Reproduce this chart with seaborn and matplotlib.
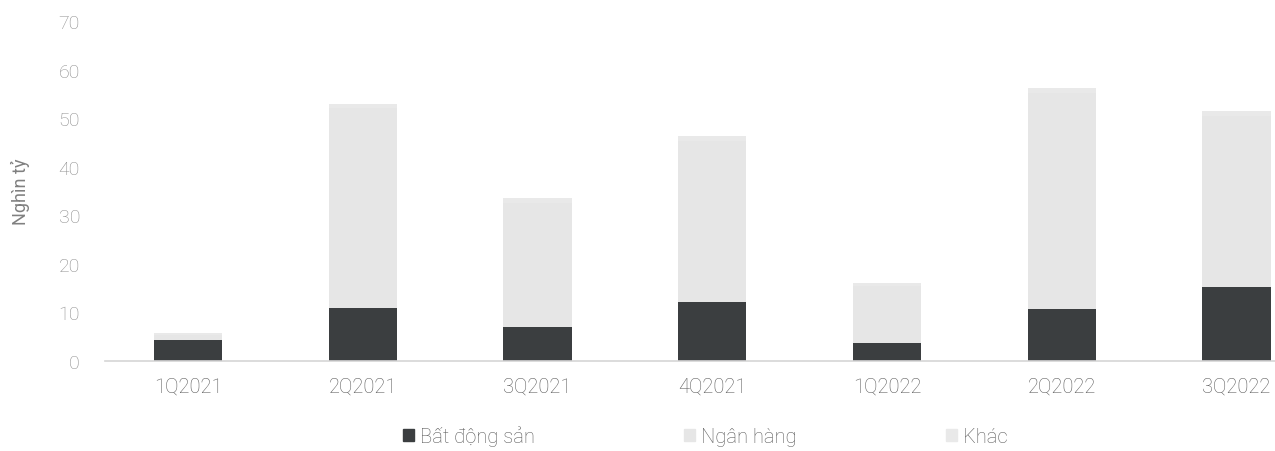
import matplotlib
matplotlib.use("Agg")

import matplotlib.pyplot as plt
import matplotlib.patches as mpatches
import numpy as np
import pandas as pd
import seaborn as sns

quarters = ["1Q2021", "2Q2021", "3Q2021", "4Q2021", "1Q2022", "2Q2022", "3Q2022"]
bat_dong_san = [4.3, 10.9, 7.0, 12.1, 3.7, 10.7, 15.2]
ngan_hang = [1.0, 41.1, 25.5, 33.2, 11.8, 44.5, 35.2]
khac = [0.5, 1.0, 1.0, 1.0, 0.5, 1.0, 1.0]

col_bds = "#3b3e40"
col_nh = "#e6e6e6"
col_khac = "#e9e9e9"

sns.set_style("white")
plt.rcParams['font.family'] = ['Roboto', 'DejaVu Sans']

df = pd.DataFrame({"quy": quarters, "bds": bat_dong_san, "nh": ngan_hang, "khac": khac})
df["lvl2"] = df["bds"] + df["nh"]
df["lvl3"] = df["lvl2"] + df["khac"]

fig = plt.figure(figsize=(12.75, 4.52), dpi=100)
ax = fig.add_axes([105 / 1275, 90 / 452, 1170 / 1275, 340 / 452])

# stacked by overdrawing cumulative totals
for col, c in [("lvl3", col_khac), ("lvl2", col_nh), ("bds", col_bds)]:
    sns.barplot(data=df, x="quy", y=col, color=c, width=0.39, saturation=1,
                linewidth=0, ax=ax)

ax.set_xlim(-0.475, 6.22)
ax.set_ylim(0, 70)
ax.set_yticks(np.arange(0, 71, 10))
ax.set_xlabel("")
ax.set_ylabel("Nghìn tỷ", fontsize=13, color="#808080")
ax.yaxis.set_label_coords(-0.064, 0.5)
ax.tick_params(axis="y", labelsize=14, colors="#8c8c8c", length=0, pad=18)
ax.tick_params(axis="x", labelsize=14.5, colors="#5a5a5a", length=0, pad=11)
for lbl in ax.get_yticklabels() + ax.get_xticklabels():
    lbl.set_fontweight("light")

for s in ["top", "right", "left"]:
    ax.spines[s].set_visible(False)
ax.spines["bottom"].set_color("#d5d5d5")
ax.spines["bottom"].set_linewidth(1.2)

handles = [
    mpatches.Patch(color=col_bds, label="Bất động sản"),
    mpatches.Patch(color=col_nh, label="Ngân hàng"),
    mpatches.Patch(color=col_khac, label="Khác"),
]
leg = fig.legend(handles=handles, loc="lower center", bbox_to_anchor=(0.553, -0.03), ncol=3,
                 frameon=False, fontsize=14.5, handlelength=0.55, handleheight=0.55,
                 handletextpad=0.3, columnspacing=7.4)
for t in leg.get_texts():
    t.set_color("#5a5a5a")
    t.set_fontweight("light")

fig.savefig("out.png", dpi=100)
